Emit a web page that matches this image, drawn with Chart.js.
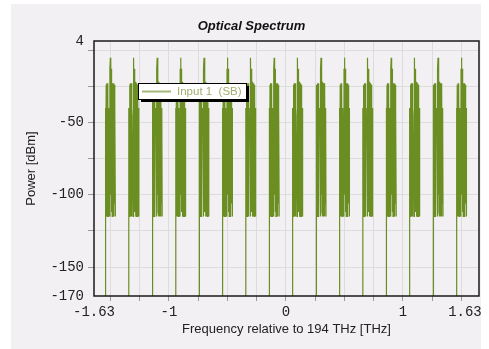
<!DOCTYPE html>
<html>
<head>
<meta charset="utf-8">
<script src="https://cdn.jsdelivr.net/npm/chart.js@4"></script>
<style>
  html, body { margin: 0; padding: 0; background: #fff; }
  #wrap { width: 489px; height: 349px; }
</style>
</head>
<body>
<div id="wrap"><canvas id="c" width="489" height="349"></canvas></div>
<script>
// comb line centres (THz, relative to 194 THz)
const centers = [-1.5, -1.3, -1.1, -0.9, -0.7, -0.5, -0.3, -0.1, 0.1, 0.3, 0.5, 0.7, 0.9, 1.1, 1.3, 1.5]
const peakLevels = [-5.3, -5.3, -5.3, -5.3, -5.3, -5.3, -5.3, -5.3, -5.3, -5.3, -5.3, -5.3, -5.3, -5.3, -5.3, -5.3]
// shape of one comb line: offset from centre (THz) and power (dBm), null = the peak itself
const shapeOffsets = [-0.0427, -0.0427, -0.0393, -0.0359, -0.0325, -0.0291, -0.0256, -0.0222, -0.0188, -0.0154, -0.0137, -0.0068, -0.0051, -0.0034, 0,
  0.0034, 0.0068, 0.0085, 0.012, 0.0154, 0.0188, 0.0222, 0.0256, 0.0291, 0.0325, 0.0359, 0.0393, 0.0427]
const shapeLevels = [-190, -40, -115, -24, -115, -23, -115, -23, -115, -40, -45, -45, -115, -13, null,
  -100, -13, -112, -22, -115, -23, -115, -23, -115, -24, -106, -40, -115]
const xTicks = [-1.5, -1.25, -1, -0.75, -0.5, -0.25, 0, 0.25, 0.5, 0.75, 1, 1.25, 1.5]
const yTicks = [-150, -125, -100, -75, -50, -25, 0]
const xLabels = { '-1.64': '-1.63', '-1': '-1', '0': '0', '1': '1', '1.53': '1.63' }
const yLabels = { '-170': '-170', '-150': '-150', '-100': '-100', '-50': '-50', '6.25': '4' }

const points = []
centers.forEach((c, i) => {
    shapeOffsets.forEach((o, j) => {
        const v = shapeLevels[j] === null ? peakLevels[i] : shapeLevels[j]
        points.push({ x: c + o, y: v })
    })
    points.push({ x: c + 0.05, y: null })
})

const panel = {
    id: 'panel',
    beforeDraw(chart) {
        const { ctx } = chart
        ctx.save()
        ctx.fillStyle = '#ffffff'
        ctx.fillRect(0, 0, chart.width, chart.height)
        ctx.fillStyle = '#f2f0f3'
        ctx.fillRect(11, 4, 470, 345)
        ctx.restore()
    },
    afterDraw(chart) {
        const { ctx, chartArea: a } = chart
        ctx.save()
        ctx.strokeStyle = '#1a1a1a'
        ctx.lineWidth = 1.5
        ctx.strokeRect(a.left, a.top, a.right - a.left, a.bottom - a.top)
        // legend box
        const lx = 138, ly = 83, lw = 108, lh = 16
        ctx.fillStyle = '#000'
        ctx.fillRect(lx + 3, ly + 3, lw, lh)
        ctx.fillStyle = '#fff'
        ctx.fillRect(lx, ly, lw, lh)
        ctx.strokeStyle = '#000'
        ctx.lineWidth = 1
        ctx.strokeRect(lx + 0.5, ly + 0.5, lw, lh)
        ctx.strokeStyle = '#a3b878'
        ctx.lineWidth = 2
        ctx.beginPath()
        ctx.moveTo(lx + 4, ly + 8.5)
        ctx.lineTo(lx + 33, ly + 8.5)
        ctx.stroke()
        ctx.fillStyle = '#a4ac72'
        ctx.font = '11.5px "Liberation Sans", Arial, sans-serif'
        ctx.textBaseline = 'middle'
        ctx.fillText(chart.data.datasets[0].label, lx + 39, ly + 9)
        ctx.restore()
    }
}

const mono = { family: '"Liberation Mono", "Courier New", monospace', size: 14 }

new Chart(document.getElementById('c'), {
    type: 'line',
    data: {
        datasets: [{
            label: 'Input 1  (SB)',
            data: points,
            borderColor: '#6b8e23',
            borderWidth: 1.2,
            pointRadius: 0,
            spanGaps: false,
            tension: 0
        }]
    },
    options: {
        responsive: false,
        animation: false,
        layout: { padding: { left: 24, right: 10, top: 0, bottom: 12 } },
        plugins: {
            legend: { display: false },
            tooltip: { enabled: false },
            title: {
                display: true,
                text: 'Optical Spectrum',
                color: '#111',
                font: { family: '"Liberation Sans", Arial, sans-serif', size: 13, weight: 'bold', style: 'italic' },
                padding: { top: 19, bottom: 6.4 }
            }
        },
        scales: {
            x: {
                type: 'linear',
                min: -1.64,
                max: 1.65,
                afterFit: (s) => { s.height = 41 },
                afterBuildTicks: (s) => {
                    s.ticks = [-1.64].concat(xTicks, [1.53]).map(v => ({ value: v }))
                },
                grid: {
                    color: (c) => xTicks.includes(c.tick && c.tick.value) ? '#dcdcdc' : 'rgba(0,0,0,0)',
                    tickColor: (c) => xTicks.includes(c.tick && c.tick.value) ? '#999' : 'rgba(0,0,0,0)',
                    tickLength: 5,
                    drawTicks: true
                },
                border: { display: false },
                ticks: {
                    autoSkip: false,
                    maxRotation: 0,
                    padding: 3,
                    color: '#222',
                    font: mono,
                    callback: (v) => xLabels[String(v)] || ''
                },
                title: {
                    display: true,
                    text: 'Frequency relative to 194 THz [THz]',
                    color: '#222',
                    font: { family: '"Liberation Sans", Arial, sans-serif', size: 13 },
                    padding: 0
                }
            },
            y: {
                type: 'linear',
                min: -170,
                max: 6.25,
                afterFit: (s) => { s.width = 70 },
                afterBuildTicks: (s) => {
                    s.ticks = [-170].concat(yTicks, [6.25]).map(v => ({ value: v }))
                },
                grid: {
                    color: (c) => yTicks.includes(c.tick && c.tick.value) ? '#dcdcdc' : 'rgba(0,0,0,0)',
                    tickColor: (c) => yTicks.includes(c.tick && c.tick.value) ? '#999' : 'rgba(0,0,0,0)',
                    tickLength: 6
                },
                border: { display: false },
                ticks: {
                    autoSkip: false,
                    padding: 4,
                    color: '#222',
                    font: mono,
                    callback: (v) => yLabels[String(v)] || ''
                },
                title: {
                    display: true,
                    text: 'Power [dBm]',
                    color: '#222',
                    font: { family: '"Liberation Sans", Arial, sans-serif', size: 13 },
                    padding: 0
                }
            }
        }
    },
    plugins: [panel]
})
</script>
</body>
</html>
